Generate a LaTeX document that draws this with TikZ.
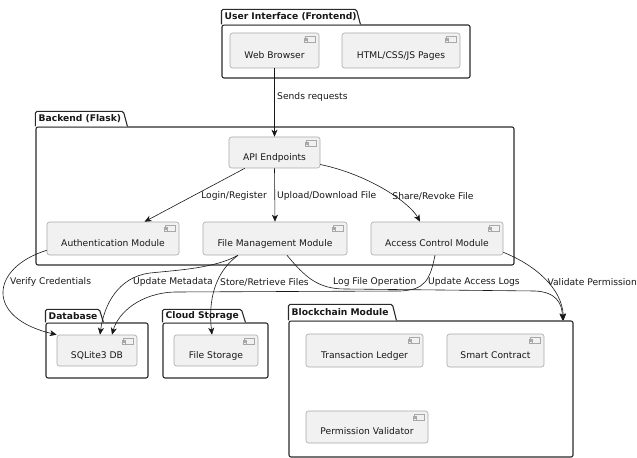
\documentclass[tikz,border=0pt]{standalone}
\usepackage{fontspec}
\setmainfont{DejaVu Sans}
\usetikzlibrary{arrows.meta,calc}
\definecolor{cfill}{HTML}{F1F1F1}
\definecolor{cborder}{HTML}{A8A8A8}
\definecolor{ink}{HTML}{181818}
\definecolor{pborder}{HTML}{2A2A2A}
\newcommand{\compicon}[1]{%
  \draw[cborder, fill=cfill, line width=0.5bp] ($(#1.north east)+(-14,4)$) rectangle ++(10,6);
  \draw[cborder, fill=cfill, line width=0.5bp] ($(#1.north east)+(-15.5,5.3)$) rectangle ++(3,1.4);
  \draw[cborder, fill=cfill, line width=0.5bp] ($(#1.north east)+(-15.5,7.8)$) rectangle ++(3,1.4);}
\newcommand{\pkgtab}[5]{%
  \draw[pkgtab] (#1.north west) -- ++(0,-#3) -- ++(#2,0) -- ++(4,#3);
  \node[ptitle] (#5) at ($(#1.north west)+(3,-#3/2)$) {#4};}
\begin{document}
\begin{tikzpicture}[x=1bp,y=-1bp,
  font=\fontsize{9.2}{11}\selectfont,
  comp/.style={draw=cborder, fill=cfill, rounded corners=2.5bp, line width=0.6bp, inner sep=0pt, text height=15.6bp, text depth=0pt, text=ink},
  pkg/.style={draw=pborder, fill=white, line width=1.1bp, rounded corners=2bp, inner sep=0pt},
  pkgtab/.style={draw=pborder, fill=white, line width=1.1bp, rounded corners=1.5bp},
  arr/.style={draw=ink, line width=0.6bp, -{Stealth[length=7bp,width=6bp,inset=2bp]}},
  lab/.style={text=ink, inner sep=0pt},
  ptitle/.style={font=\fontsize{9.2}{11}\selectfont\bfseries, inner sep=0pt, anchor=west, text=ink}]
\useasboundingbox (0,0) rectangle (637,458);

% packages
\node[pkg, minimum width=248bp, minimum height=53bp] (ui) at (346,51.5) {};
\pkgtab{ui}{135}{15}{User Interface (Frontend)}{uit}
\node[pkg, minimum width=478bp, minimum height=138bp] (be) at (275,196) {};
\pkgtab{be}{88}{15}{Backend (Flask)}{bet}
\node[pkg, minimum width=102bp, minimum height=55bp] (dbp) at (97,350.5) {};
\pkgtab{dbp}{54}{13}{Database}{dbt}
\node[pkg, minimum width=105bp, minimum height=55bp] (csp) at (215.5,350.5) {};
\pkgtab{csp}{79}{13}{Cloud Storage}{cst}
\node[pkg, minimum width=284bp, minimum height=136bp] (bc) at (431,389) {};
\pkgtab{bc}{104}{16}{Blockchain Module}{bct}

% components
\node[comp, minimum width=89bp, minimum height=35bp] (web) at (274.5,50.5) {Web Browser};
\node[comp, minimum width=118bp, minimum height=35bp] (html) at (401,50.5) {HTML/CSS/JS Pages};
\node[comp, minimum width=91bp, minimum height=31bp] (api) at (274.5,152.5) {API Endpoints};
\node[comp, minimum width=132bp, minimum height=33bp] (auth) at (113,238.5) {Authentication Module};
\node[comp, minimum width=144bp, minimum height=33bp] (fm) at (275,238.5) {File Management Module};
\node[comp, minimum width=132bp, minimum height=33bp] (ac) at (437,238.5) {Access Control Module};
\node[comp, minimum width=80bp, minimum height=31bp] (db) at (97,350.5) {SQLite3 DB};
\node[comp, minimum width=84bp, minimum height=31bp] (fs) at (216,350.5) {File Storage};
\node[comp, minimum width=117bp, minimum height=33bp] (tl) at (364.5,350.5) {Transaction Ledger};
\node[comp, minimum width=97bp, minimum height=33bp] (sc) at (495.5,350.5) {Smart Contract};
\node[comp, minimum width=122bp, minimum height=32bp] (pv) at (367,427) {Permission Validator};
\foreach \n in {web,html,api,auth,fm,ac,db,fs,tl,sc,pv} {\compicon{\n}}

% connectors
\draw[arr] (web) -- (api);
\node[lab, anchor=west] (l1) at (277,97) {Sends requests};
\draw[arr] (api) -- (auth);
\node[lab, anchor=east] (l2) at (267,196) {Login/Register};
\draw[arr] (api.south) -- (fm.north);
\node[lab, anchor=west] (l3) at (277,196) {Upload/Download File};
\draw[arr] ($(api.east)+(0,12)$) .. controls (370,175) and (410,203) .. ($(ac.north)+(-17,0)$);
\node[lab] (l4) at (433,196) {Share/Revoke File};

\draw[arr] ($(auth.south west)+(0,-5)$) .. controls (-10,268) and (-15,318) .. (db.north west);
\node[lab, anchor=west] (l5) at (10,282) {Verify Credentials};
\draw[arr] ($(fm.south)+(-37,0)$) .. controls (215,268) and (180,270) .. (150,273) .. controls (118,277) and (104,305) .. ($(db.north)+(3,0)$);
\node[lab, anchor=west] (l6) at (133,282) {Update Metadata};
\draw[arr] ($(fm.south)+(-37,0)$) .. controls (215,272) and (208,300) .. ($(fs.north)+(-4,0)$);
\node[lab, anchor=west] (l7) at (220,282) {Store/Retrieve Files};
\draw[arr] ($(fm.south)+(12,0)$) .. controls (305,277) and (318,289) .. (345,289) -- (535,291) .. controls (556,292) and (562,303) .. ($(bc.north east)+(-11,0)$);
\node[lab, anchor=west] (l8) at (333,282) {Log File Operation};
\draw[arr] ($(ac.south)+(-2,0)$) .. controls (430,280) and (425,290) .. (400,291) -- (175,292) .. controls (140,293) and (118,313) .. ($(db.north)+(15,0)$);
\node[lab, anchor=west] (l9) at (428,282) {Update Access Logs};
\draw[arr] ($(ac.south east)+(0,-3)$) .. controls (535,265) and (562,288) .. ($(bc.north east)+(-10,0)$);
\node[lab, anchor=east] (l10) at (637,282) {Validate Permission};
\end{tikzpicture}
\end{document}
